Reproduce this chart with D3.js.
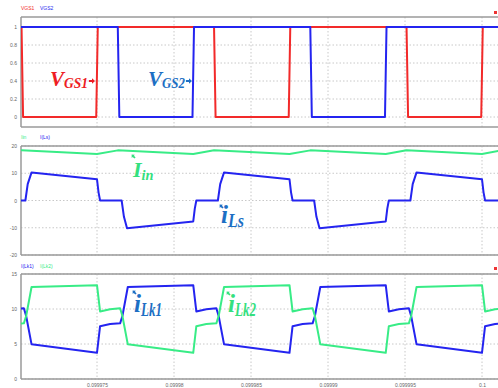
<!DOCTYPE html>
<html><head><meta charset="utf-8">
<script src="https://cdn.jsdelivr.net/npm/d3@7/dist/d3.min.js"></script>
<style>html,body{margin:0;padding:0;background:#fff;}svg{display:block;}</style>
</head><body><svg id="c" width="498" height="388"></svg>
<script>
// ---- data (time in microseconds after T0 seconds) ----
const T0 = 0.09997;
const xTicks = [0.099975, 0.09998, 0.099985, 0.09999, 0.099995, 0.1];
const xTickLabels = ["0.099975", "0.09998", "0.099985", "0.09999", "0.099995", "0.1"];

const vgs1 = [[0,1],[0.1,1],[0.2,0],[4.95,0],[5.05,1],[12.6,1],[12.7,0],[17.45,0],[17.55,1],[25.1,1],[25.2,0],[29.95,0],[30.05,1],[31.1,1]];
const vgs2 = [[0,1],[6.35,1],[6.45,0],[11.2,0],[11.3,1],[18.85,1],[18.95,0],[23.7,0],[23.8,1],[31.1,1]];

const iin = [[0,18.35],[0.1,18.45],[5.0,17.05],[6.35,18.4],[11.25,17.05],[12.6,18.45],[17.5,17.05],[18.85,18.4],[23.75,17.05],[25.1,18.45],[30.0,17.05],[31.1,18.2]];
const iLs = [[0,0],[0.35,0],[0.5,6],[0.75,10.3],[5.0,7.8],[5.1,3],[5.2,0],[6.6,0],[6.75,-6],[6.95,-10.2],[11.25,-7.7],[11.35,-3],[11.45,0],[12.85,0],[13.0,6],[13.25,10.3],[17.5,7.8],[17.6,3],[17.7,0],[19.1,0],[19.25,-6],[19.45,-10.2],[23.75,-7.7],[23.85,-3],[23.95,0],[25.35,0],[25.5,6],[25.75,10.3],[30.0,7.8],[30.1,3],[30.2,0],[31.1,0]];

const iLk1 = [[0,10.05],[0.25,10.1],[0.4,9.0],[0.75,4.95],[5.0,3.75],[5.2,7.55],[5.85,7.85],[6.5,7.95],[6.65,9.0],[7.0,13.15],[11.25,13.4],[11.45,9.65],[12.1,9.95],[12.75,10.1],[12.9,9.0],[13.25,4.95],[17.5,3.75],[17.7,7.55],[18.35,7.85],[19.0,7.95],[19.15,9.0],[19.5,13.15],[23.75,13.4],[23.95,9.65],[24.6,9.95],[25.25,10.1],[25.4,9.0],[25.75,4.95],[30.0,3.75],[30.2,7.55],[30.85,7.85],[31.1,7.9]];
const iLk2 = [[0,7.9],[0.25,7.95],[0.4,9.0],[0.75,13.15],[5.0,13.4],[5.2,9.65],[5.85,9.95],[6.5,10.1],[6.65,9.0],[7.0,4.95],[11.25,3.75],[11.45,7.55],[12.1,7.85],[12.75,7.95],[12.9,9.0],[13.25,13.15],[17.5,13.4],[17.7,9.65],[18.35,9.95],[19.0,10.1],[19.15,9.0],[19.5,4.95],[23.75,3.75],[23.95,7.55],[24.6,7.85],[25.25,7.95],[25.4,9.0],[25.75,13.15],[30.0,13.4],[30.2,9.65],[30.85,9.95],[31.1,10.0]];

const p1Ticks = [0, 0.2, 0.4, 0.6, 0.8, 1];
const p2Ticks = [-20, -10, 0, 10, 20];
const p3Ticks = [0, 5, 10, 15];

const RED = "#f22a2a", BLUE = "#2424f0", GREEN = "#38ec86";
const LBLUE = "#1d6fc4", LGREEN = "#34e07e", LRED = "#ee1c24";

// ---- layout ----
const svg = d3.select("#c");
const x = d3.scaleLinear().domain([T0, 0.1]).range([20, 482]);
const L = 21, R = 498;
const toT = us => T0 + us * 1e-6;

const panels = [
  {top:17, bot:127, y: d3.scaleLinear().domain([0,1]).range([117,27]), ticks:p1Ticks, fmt:d=>String(d),
   series:[{d:vgs1,c:RED},{d:vgs2,c:BLUE}], legend:[["VGS1",RED],["VGS2",BLUE]], legY:10},
  {top:146, bot:255, y: d3.scaleLinear().domain([-20,20]).range([255,146]), ticks:p2Ticks, fmt:d=>String(d),
   series:[{d:iin,c:GREEN},{d:iLs,c:BLUE}], legend:[["Iin",GREEN],["I(Ls)",BLUE]], legY:139},
  {top:274, bot:379, y: d3.scaleLinear().domain([0,15]).range([379,274]), ticks:p3Ticks, fmt:d=>String(d),
   series:[{d:iLk1,c:BLUE},{d:iLk2,c:GREEN}], legend:[["I(Lk1)",BLUE],["I(Lk2)",GREEN]], legY:268}
];

const defs = svg.append("defs");
panels.forEach((p, i) => {
  defs.append("clipPath").attr("id","clip"+i).append("rect")
    .attr("x", L).attr("y", p.top - 2).attr("width", R - L).attr("height", p.bot - p.top + 4);
  const g = svg.append("g");
  g.selectAll(".vg").data(xTicks).join("line")
    .attr("x1", d=>x(d)).attr("x2", d=>x(d)).attr("y1", p.top).attr("y2", p.bot)
    .attr("stroke", "#c8c8c8").attr("stroke-width", 1).attr("stroke-dasharray", "1.5,2");
  g.selectAll(".hg").data(p.ticks).join("line")
    .attr("x1", L).attr("x2", R).attr("y1", d=>p.y(d)).attr("y2", d=>p.y(d))
    .attr("stroke", "#c8c8c8").attr("stroke-width", 1).attr("stroke-dasharray", "1.5,2");
  const ya = d3.axisLeft(p.y).tickValues(p.ticks).tickSize(0).tickPadding(4).tickFormat(p.fmt);
  const yg = g.append("g").attr("transform", `translate(${L},0)`).call(ya);
  yg.select(".domain").remove();
  yg.selectAll("text").attr("font-size", 5).attr("font-family", "Liberation Sans, Arial").attr("fill", "#666");
  g.append("line").attr("x1", L).attr("x2", R).attr("y1", p.top).attr("y2", p.top).attr("stroke", "#9a9a9a").attr("stroke-width", 1.5);
  g.append("line").attr("x1", L).attr("x2", R).attr("y1", p.bot).attr("y2", p.bot).attr("stroke", "#9a9a9a").attr("stroke-width", 1.5);
  g.append("line").attr("x1", L).attr("x2", L).attr("y1", p.top).attr("y2", p.bot).attr("stroke", "#9a9a9a").attr("stroke-width", 1.5);
  const line = d3.line().x(d => x(toT(d[0]))).y(d => p.y(d[1]));
  const sg = g.append("g").attr("clip-path", `url(#clip${i})`);
  p.series.forEach(s => {
    sg.append("path").attr("d", line(s.d)).attr("fill", "none").attr("stroke", s.c)
      .attr("stroke-width", 2).attr("stroke-linejoin", "round");
  });
  let lx = 21;
  p.legend.forEach(([t, c]) => {
    g.append("text").attr("x", lx).attr("y", p.legY).text(t).attr("fill", c)
      .attr("font-size", 5).attr("font-family", "Liberation Sans, Arial");
    lx += 19;
  });
});

const xa = d3.axisBottom(x).tickValues(xTicks).tickSize(0).tickPadding(4).tickFormat((d,i)=>xTickLabels[i]);
const xg = svg.append("g").attr("transform", "translate(0,379)").call(xa);
xg.select(".domain").remove();
xg.selectAll("text").attr("font-size", 5).attr("font-family", "Liberation Sans, Arial").attr("fill", "#666");

svg.append("rect").attr("x", 494).attr("y", 11).attr("width", 3).attr("height", 3).attr("fill", "#e33");
svg.append("rect").attr("x", 494).attr("y", 267).attr("width", 3).attr("height", 3).attr("fill", "#e33");

// annotations: one text element per label, subscript right after main letter
const FF = "Liberation Serif, DejaVu Serif, serif";
function label(mainTxt, subTxt, x0, base, mSize, sSize, subW, subDy, color) {
  const t = svg.append("text").attr("x", x0).attr("y", base).attr("font-family", FF)
    .attr("font-style", "italic").attr("font-weight", "bold").attr("fill", color);
  t.append("tspan").attr("font-size", mSize).text(mainTxt);
  t.append("tspan").attr("dy", subDy).attr("font-size", sSize)
    .attr("textLength", subW).attr("lengthAdjust", "spacingAndGlyphs").text(subTxt);
}
const arrowPath = "M0,-1.1 L3,-1.1 L3,-2.8 L6,0 L3,2.8 L3,1.1 L0,1.1 Z";
function arrow(ax, ay, rot, color, sc) {
  svg.append("path").attr("d", arrowPath).attr("fill", color)
    .attr("transform", `translate(${ax},${ay}) rotate(${rot}) scale(${sc})`);
}
label("V", "GS1", 50, 86, 21, 14, 24, 2, LRED);
arrow(89, 81, 0, LRED, 1);
label("V", "GS2", 148, 86, 21, 14, 23, 2, LBLUE);
arrow(186, 81, 0, LBLUE, 1);

label("I", "in", 133, 177, 22, 15, 12, 3, LGREEN);
arrow(135, 158, 225, LGREEN, 0.8);
label("i", "Ls", 221, 223, 25, 18, 16, 4, LBLUE);
arrow(223, 208, 225, LBLUE, 0.8);
label("i", "Lk1", 134, 312, 25, 18, 21, 4, LBLUE);
arrow(136, 294, 225, LBLUE, 0.8);
label("i", "Lk2", 228, 312, 25, 18, 21, 4, LGREEN);
arrow(230, 295, 225, LGREEN, 0.8);
</script></body></html>
